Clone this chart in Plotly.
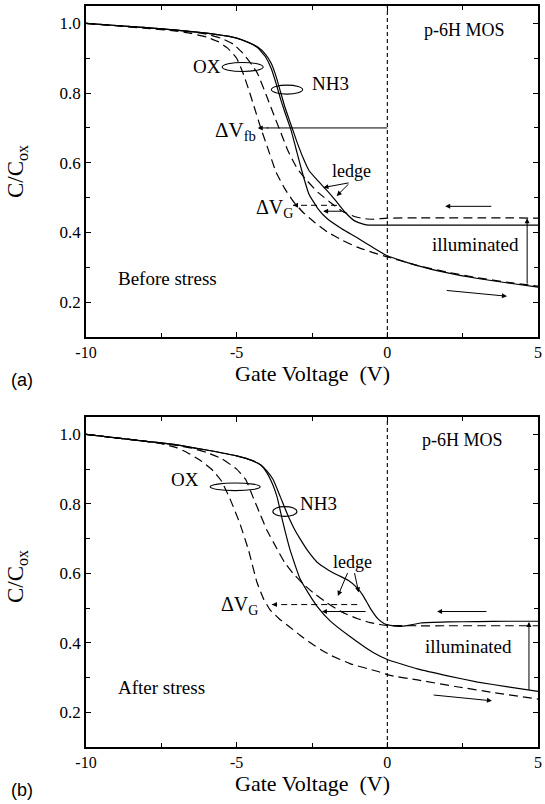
import plotly.graph_objects as go

# ---------------- data: panel (a) Before stress ----------------
a_nh3_dark_x = [-10, -9, -8, -7, -6, -5, -4.6, -4.3, -4.05, -3.85, -3.7, -3.55, -3.4, -3.2, -3.0, -2.8, -2.6, -2.3, -2.0, -1.5, -1.0, -0.5, 0, 1, 2, 3, 4, 5]
a_nh3_dark_y = [1.0, 0.994, 0.988, 0.981, 0.972, 0.958, 0.945, 0.93, 0.905, 0.87, 0.83, 0.785, 0.745, 0.695, 0.63, 0.565, 0.51, 0.468, 0.44, 0.41, 0.385, 0.358, 0.333, 0.305, 0.284, 0.268, 0.255, 0.243]

a_nh3_ill_x = [-10, -9, -8, -7, -6, -5, -4.6, -4.3, -4.05, -3.85, -3.7, -3.55, -3.4, -3.2, -3.0, -2.8, -2.6, -2.3, -2.0, -1.7, -1.4, -1.1, -0.8, -0.6, 0, 1, 2, 3, 4, 5]
a_nh3_ill_y = [1.0, 0.994, 0.988, 0.981, 0.972, 0.958, 0.945, 0.932, 0.912, 0.885, 0.85, 0.805, 0.76, 0.71, 0.66, 0.615, 0.578, 0.548, 0.52, 0.49, 0.458, 0.434, 0.424, 0.421, 0.421, 0.421, 0.421, 0.421, 0.421, 0.421]

a_ox_dark_x = [-10, -9, -8, -7, -6.5, -6, -5.6, -5.3, -5.0, -4.8, -4.6, -4.4, -4.2, -4.0, -3.7, -3.4, -3.1, -2.8, -2.4, -2.0, -1.5, -1.0, -0.5, 0, 1, 2, 3, 4, 5]
a_ox_dark_y = [1.0, 0.993, 0.986, 0.978, 0.971, 0.961, 0.947, 0.929, 0.9, 0.86, 0.81, 0.755, 0.7, 0.65, 0.575, 0.525, 0.487, 0.458, 0.428, 0.402, 0.378, 0.358, 0.343, 0.33, 0.305, 0.286, 0.27, 0.257, 0.246]

a_ox_ill_x = [-10, -9, -8, -7, -6.5, -6, -5.5, -5.1, -4.8, -4.5, -4.3, -4.0, -3.8, -3.55, -3.3, -3.0, -2.7, -2.3, -1.9, -1.5, -1.1, -0.8, -0.5, 0, 1, 2, 3, 4, 5]
a_ox_ill_y = [1.0, 0.994, 0.988, 0.981, 0.976, 0.969, 0.957, 0.94, 0.915, 0.882, 0.855, 0.79, 0.745, 0.69, 0.635, 0.585, 0.552, 0.515, 0.487, 0.461, 0.446, 0.44, 0.438, 0.441, 0.442, 0.442, 0.442, 0.442, 0.441]

# ---------------- data: panel (b) After stress ----------------
b_nh3_dark_x = [-10, -9, -8, -7, -6, -5, -4.5, -4.2, -4.0, -3.8, -3.66, -3.46, -3.23, -2.9, -2.6, -2.33, -1.9, -1.24, -0.47, 0, 1, 2, 3, 4, 5]
b_nh3_dark_y = [1.0, 0.99, 0.98, 0.97, 0.955, 0.938, 0.925, 0.912, 0.89, 0.855, 0.82, 0.745, 0.668, 0.585, 0.54, 0.505, 0.463, 0.418, 0.372, 0.352, 0.325, 0.305, 0.287, 0.273, 0.26]

b_nh3_ill_x = [-10, -9, -8, -7, -6, -5, -4.5, -4.2, -4.0, -3.79, -3.55, -3.33, -3.1, -2.9, -2.6, -2.33, -2.0, -1.67, -1.3, -1.0, -0.8, -0.57, -0.3, -0.1, 0.1, 0.4, 0.7, 1.1, 2, 3, 4, 5]
b_nh3_ill_y = [1.0, 0.99, 0.98, 0.97, 0.955, 0.938, 0.925, 0.912, 0.895, 0.87, 0.82, 0.773, 0.73, 0.70, 0.66, 0.632, 0.612, 0.596, 0.58, 0.558, 0.535, 0.5, 0.468, 0.455, 0.45, 0.447, 0.45, 0.457, 0.46, 0.461, 0.462, 0.462]

b_ox_dark_x = [-10, -9, -8, -7.5, -7, -6.65, -6.2, -5.78, -5.5, -5.2, -4.9, -4.6, -4.33, -4.1, -3.89, -3.6, -3.23, -2.9, -2.57, -2.2, -1.9, -1.24, -0.34, 0.09, 1, 2.41, 3.5, 5]
b_ox_dark_y = [1.0, 0.99, 0.98, 0.973, 0.962, 0.948, 0.925, 0.895, 0.865, 0.81, 0.745, 0.665, 0.575, 0.525, 0.495, 0.47, 0.445, 0.422, 0.401, 0.38, 0.365, 0.34, 0.318, 0.306, 0.293, 0.272, 0.257, 0.238]

b_ox_ill_x = [-10, -9, -8, -7, -6.5, -6, -5.5, -5.0, -4.7, -4.46, -4.22, -4.0, -3.66, -3.4, -3.13, -2.8, -2.47, -2.0, -1.5, -1.0, -0.57, -0.2, 0, 1, 2, 3, 4, 5]
b_ox_ill_y = [1.0, 0.99, 0.98, 0.968, 0.96, 0.948, 0.93, 0.9, 0.87, 0.82, 0.77, 0.725, 0.67, 0.63, 0.60, 0.57, 0.545, 0.515, 0.488, 0.47, 0.458, 0.452, 0.45, 0.449, 0.449, 0.449, 0.449, 0.449]

x_tick_vals = [-10, -5, 0, 5]
x_tick_text = ["-10", "-5", "0", "5"]
y_tick_vals = [0.2, 0.4, 0.6, 0.8, 1.0]
y_tick_text = ["0.2", "0.4", "0.6", "0.8", "1.0"]

SERIF = "Liberation Serif"
W, H = 545, 804
DASH = "9px,5px"
fig = go.Figure()

def add_curve(x, y, dash, xa, ya):
    fig.add_trace(go.Scatter(x=x, y=y, mode="lines", xaxis=xa, yaxis=ya,
                             line=dict(color="black", width=1.2, dash=dash, shape="spline", smoothing=0.4),
                             showlegend=False, hoverinfo="skip"))

add_curve(a_nh3_dark_x, a_nh3_dark_y, "solid", "x", "y")
add_curve(a_nh3_ill_x, a_nh3_ill_y, "solid", "x", "y")
add_curve(a_ox_dark_x, a_ox_dark_y, DASH, "x", "y")
add_curve(a_ox_ill_x, a_ox_ill_y, DASH, "x", "y")
add_curve(b_nh3_dark_x, b_nh3_dark_y, "solid", "x2", "y2")
add_curve(b_nh3_ill_x, b_nh3_ill_y, "solid", "x2", "y2")
add_curve(b_ox_dark_x, b_ox_dark_y, DASH, "x2", "y2")
add_curve(b_ox_ill_x, b_ox_ill_y, DASH, "x2", "y2")

ax_common = dict(showline=True, linecolor="black", linewidth=1.5, mirror="allticks",
                 ticks="inside", ticklen=5, tickcolor="black", tickwidth=1,
                 showgrid=False, zeroline=False, automargin=False,
                 tickfont=dict(family=SERIF, size=16, color="black"))
xdom = [86 / W, 538 / W]
xa = dict(ax_common, range=[-10, 5], tickvals=x_tick_vals, ticktext=x_tick_text,
          minor=dict(ticks="inside", ticklen=4, tickcolor="black", tickvals=[-7.5, -2.5, 2.5]))
ya = dict(ax_common, range=[0.1, 1.05], tickvals=y_tick_vals, ticktext=y_tick_text,
          tickfont=dict(family=SERIF, size=17, color="black"),
          minor=dict(ticks="inside", ticklen=4, tickcolor="black", tickvals=[0.1, 0.3, 0.5, 0.7, 0.9]))

fig.update_layout(
    width=W, height=H, margin=dict(l=0, r=0, t=0, b=0, autoexpand=False),
    paper_bgcolor="white", plot_bgcolor="white",
    xaxis=dict(xa, domain=xdom, anchor="y"),
    yaxis=dict(ya, domain=[1 - 337 / H, 1 - 6 / H], anchor="x"),
    xaxis2=dict(xa, domain=xdom, anchor="y2"),
    yaxis2=dict(ya, domain=[1 - 747 / H, 1 - 417 / H], anchor="x2"),
)

shapes = []
annotations = []

def vline(xr, yr):
    shapes.append(dict(type="line", xref=xr, yref=yr, x0=0, x1=0, y0=0.1, y1=1.05,
                       line=dict(color="black", width=1.1, dash="4px,3px")))

def oval(xr, yr, cx, cy, hw, hh):
    shapes.append(dict(type="circle", xref=xr, yref=yr, x0=cx - hw, x1=cx + hw, y0=cy - hh, y1=cy + hh,
                       line=dict(color="black", width=1.1)))

def arrow(xr, yr, x_from, y_from, x_to, y_to):
    annotations.append(dict(xref=xr, yref=yr, axref=xr, ayref=yr, x=x_to, y=y_to, ax=x_from, ay=y_from,
                            text="", showarrow=True, arrowhead=2, arrowsize=1, arrowwidth=1, arrowcolor="black",
                            standoff=0, startstandoff=0))

def dashed_arrow(xr, yr, x_from, y_from, x_to, y_to):
    shapes.append(dict(type="line", xref=xr, yref=yr, x0=x_from, x1=x_to, y0=y_from, y1=y_to,
                       line=dict(color="black", width=1, dash="6px,4px")))
    arrow(xr, yr, x_to + 0.15, y_to, x_to, y_to)

def text(xr, yr, x, y, s, size=18, xanchor="center"):
    annotations.append(dict(xref=xr, yref=yr, x=x, y=y, text=s, showarrow=False, xanchor=xanchor,
                            yanchor="middle", font=dict(family=SERIF, size=size, color="black")))

# ---- panel (a) ----
vline("x", "y")
oval("x", "y", -4.8, 0.875, 0.68, 0.013)
oval("x", "y", -3.33, 0.81, 0.52, 0.013)
text("x", "y", 2.55, 0.98, "p-6H MOS", 18)
text("x", "y", -6.0, 0.877, "OX", 19)
text("x", "y", -1.87, 0.828, "NH3", 19)
text("x", "y", -5.05, 0.69, "ΔV<sub>fb</sub>", 21)
text("x", "y", -1.2, 0.576, "ledge", 18)
text("x", "y", -3.73, 0.47, "ΔV<sub>G</sub>", 20)
text("x", "y", 2.91, 0.366, "illuminated", 19)
text("x", "y", -7.28, 0.269, "Before stress", 19)
shapes.append(dict(type="line", xref="x", yref="y", x0=0, x1=-4.0, y0=0.70, y1=0.70,
                   line=dict(color="black", width=1)))
arrow("x", "y", -3.9, 0.70, -4.3, 0.70)
arrow("x", "y", -1.24, 0.543, -2.12, 0.529)
arrow("x", "y", -1.24, 0.543, -1.68, 0.505)
dashed_arrow("x", "y", -1.67, 0.478, -3.13, 0.478)
arrow("x", "y", -1.47, 0.461, -2.13, 0.461)
arrow("x", "y", 3.5, 0.475, 1.92, 0.475)
arrow("x", "y", 1.92, 0.234, 3.97, 0.217)
arrow("x", "y", 4.64, 0.249, 4.64, 0.441)

# ---- panel (b) ----
vline("x2", "y2")
oval("x2", "y2", -5.05, 0.849, 0.83, 0.011)
oval("x2", "y2", -3.4, 0.778, 0.4, 0.014)
text("x2", "y2", 2.51, 0.983, "p-6H MOS", 18)
text("x2", "y2", -6.71, 0.871, "OX", 19)
text("x2", "y2", -2.3, 0.80, "NH3", 19)
text("x2", "y2", -1.14, 0.633, "ledge", 18)
text("x2", "y2", -4.89, 0.507, "ΔV<sub>G</sub>", 20)
text("x2", "y2", 2.68, 0.389, "illuminated", 19)
text("x2", "y2", -7.5, 0.27, "After stress", 19)
arrow("x2", "y2", -1.3, 0.605, -1.64, 0.535)
arrow("x2", "y2", -1.1, 0.605, -0.95, 0.545)
dashed_arrow("x2", "y2", -1.0, 0.51, -3.83, 0.51)
arrow("x2", "y2", -0.67, 0.49, -2.17, 0.49)
arrow("x2", "y2", 3.34, 0.49, 1.65, 0.49)
arrow("x2", "y2", 1.49, 0.25, 3.47, 0.233)
arrow("x2", "y2", 4.7, 0.26, 4.7, 0.46)

# ---- paper-level titles ----
for ypx, lab in [(380, "(a)"), (790, "(b)")]:
    annotations.append(dict(xref="paper", yref="paper", x=22 / W, y=1 - ypx / H, text=lab,
                            showarrow=False, xanchor="center", yanchor="middle",
                            font=dict(family="Liberation Sans", size=18, color="black")))
for ypx in [373, 783]:
    annotations.append(dict(xref="paper", yref="paper", x=312 / W, y=1 - ypx / H,
                            text="Gate Voltage  (V)", showarrow=False, xanchor="center", yanchor="middle",
                            font=dict(family=SERIF, size=22, color="black")))
for ypx in [172, 577]:
    annotations.append(dict(xref="paper", yref="paper", x=17 / W, y=1 - ypx / H,
                            text="C/C<sub>ox</sub>", showarrow=False, textangle=-90,
                            xanchor="center", yanchor="middle",
                            font=dict(family=SERIF, size=23, color="black")))

fig.update_layout(shapes=shapes, annotations=annotations)
fig.write_html("out.html", config={"displayModeBar": False},
               post_script="document.body.style.margin='0';document.body.style.overflow='hidden';")
